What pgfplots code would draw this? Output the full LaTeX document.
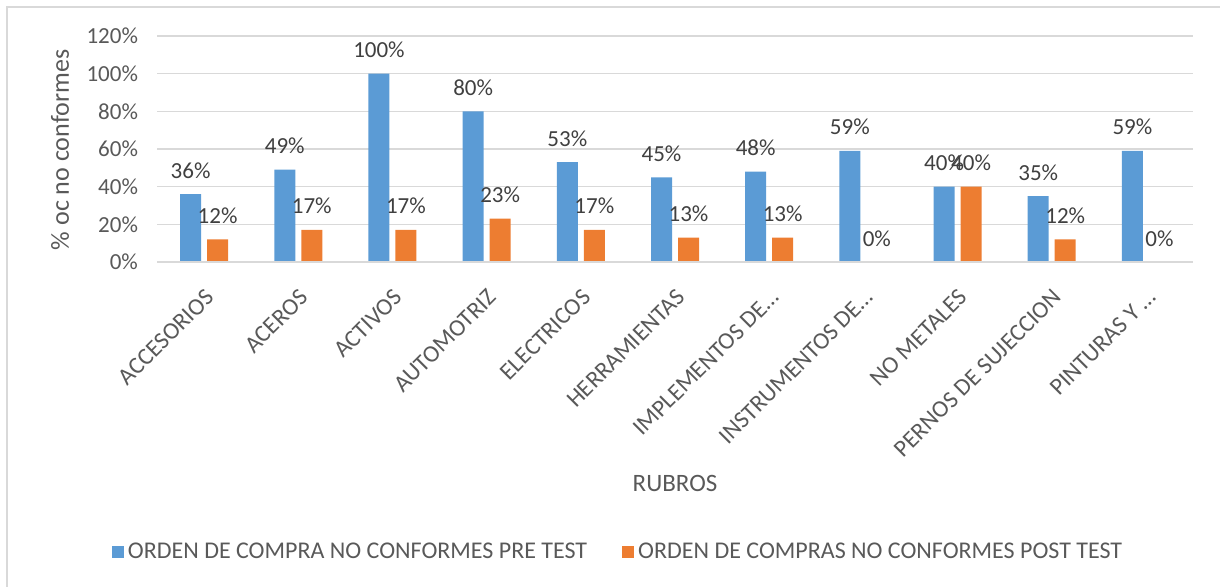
\documentclass[border=0pt]{standalone}
\usepackage{pgfplots}
\pgfplotsset{compat=1.18}
\usepackage{fontspec}
\setmainfont{Carlito}
\definecolor{cblue}{HTML}{5B9BD5}
\definecolor{corange}{HTML}{ED7D31}
\definecolor{tgray}{HTML}{595959}
\definecolor{lgray}{HTML}{404040}
\definecolor{gridgray}{HTML}{D9D9D9}
\begin{document}
\begin{tikzpicture}
\useasboundingbox (0pt,0pt) rectangle (610pt,-293.5pt);
\draw[gridgray, line width=0.75pt] (3.5pt,-300pt) -- (3.5pt,-3.5pt) -- (620pt,-3.5pt);
\begin{axis}[
  at={(78.5pt,-131pt)}, anchor=south west,
  scale only axis, width=518pt, height=113pt,
  /pgf/number format/assume math mode=true,
  ybar=3pt, bar width=10.5pt,
  xmin=-0.5, xmax=10.5, ymin=0, ymax=120,
  ytick={0,20,...,120},
  yticklabel={\pgfmathprintnumber{\tick}\%},
  xtick={0,...,10},
  xticklabels={ACCESORIOS,ACEROS,ACTIVOS,AUTOMOTRIZ,ELECTRICOS,HERRAMIENTAS,IMPLEMENTOS DE…,INSTRUMENTOS DE…,NO METALES,PERNOS DE SUJECCION,PINTURAS Y …},
  major tick length=0pt,
  axis line style={draw=none},
  axis x line*=bottom, axis y line*=left,
  ymajorgrids, xmajorgrids=false, grid style={draw=gridgray, line width=0.75pt},
  yticklabel style={font=\fontsize{11.5}{13}\selectfont, text=tgray, xshift=-6pt},
  xticklabel style={font=\fontsize{12}{14}\selectfont, text=tgray, yshift=-8pt, rotate=45, anchor=north east},
  ylabel={\% oc no conformes},
  ylabel style={font=\fontsize{13}{15}\selectfont, text=tgray, at={(axis description cs:-0.0936,0.496)}, anchor=center, rotate=0},
  xlabel={RUBROS},
  xlabel style={font=\fontsize{12.5}{15}\selectfont, text=tgray, at={(axis description cs:0.5,-0.982)}, anchor=center},
  nodes near coords={\pgfmathprintnumber[fixed,precision=0]{\pgfplotspointmeta}\%},
  every node near coord/.append style={font=\fontsize{11.5}{13}\selectfont, text=lgray, anchor=base, yshift=8pt, inner sep=0pt},
  legend columns=2,
  legend style={at={(0.446,-1.283)}, anchor=center, draw=none, fill=none,
    font=\fontsize{12}{14}\selectfont, text=tgray,
    /tikz/every even column/.append style={column sep=15.5pt},
    inner sep=0pt},
  legend image code/.code={\fill[#1] (0pt,-3pt) rectangle (6pt,3pt);},
  clip=false,
]
\addplot[fill=cblue, draw=none] coordinates {(0,36) (1,49) (2,100) (3,80) (4,53) (5,45) (6,48) (7,59) (8,40) (9,35) (10,59)};
\addplot[fill=corange, draw=none] coordinates {(0,12) (1,17) (2,17) (3,23) (4,17) (5,13) (6,13) (7,0) (8,40) (9,12) (10,0)};
\draw[gridgray, line width=0.75pt] (axis cs:-0.5,0) -- (axis cs:10.5,0);
\legend{ORDEN DE COMPRA NO CONFORMES PRE TEST, ORDEN DE COMPRAS NO CONFORMES POST TEST}
\end{axis}
\end{tikzpicture}
\end{document}
